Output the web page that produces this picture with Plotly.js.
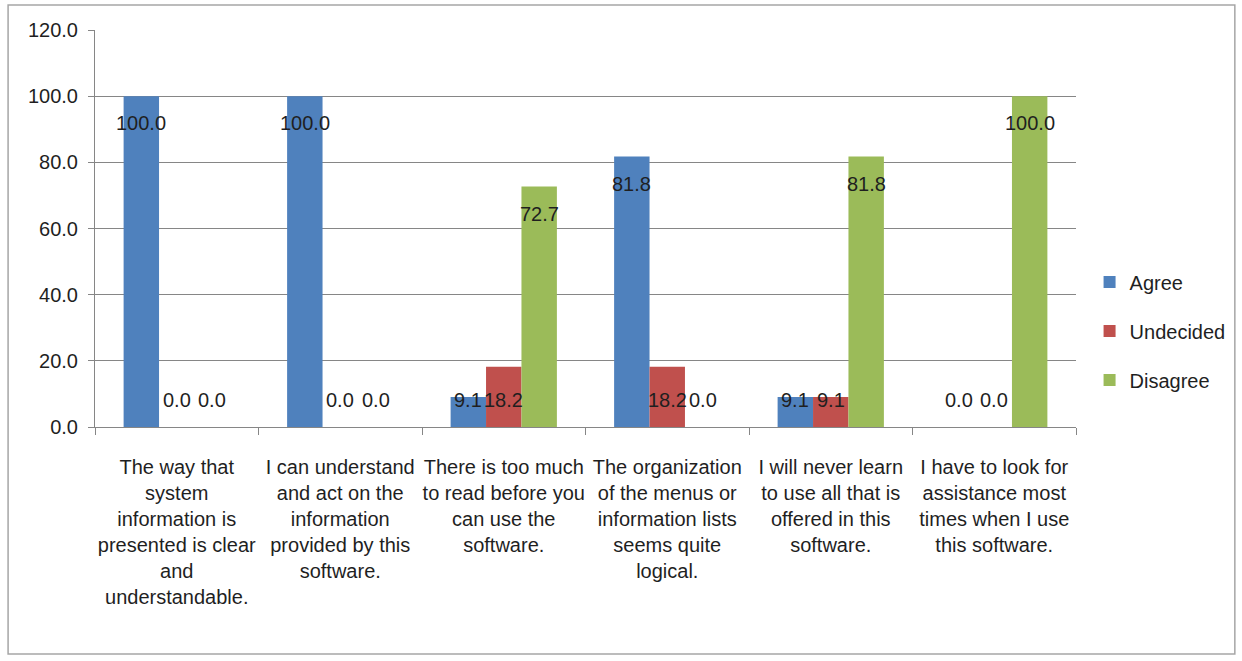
<!DOCTYPE html>
<html>
<head>
<meta charset="utf-8">
<script src="https://cdn.plot.ly/plotly-3.0.1.min.js"></script>
<style>
html,body{margin:0;padding:0;background:#fff;}
#chart{width:1242px;height:661px;}
</style>
</head>
<body>
<div id="chart"></div>
<script>
const categories = [
  "The way that<br>system<br>information is<br>presented is clear<br>and<br>understandable.",
  "I can understand<br>and act on the<br>information<br>provided by this<br>software.",
  "There is too much<br>to read before you<br>can use the<br>software.",
  "The organization<br>of the menus or<br>information lists<br>seems quite<br>logical.",
  "I will never learn<br>to use all that is<br>offered in this<br>software.",
  "I have to look for<br>assistance most<br>times when I use<br>this software."
];
const agree = [100.0, 100.0, 9.1, 81.8, 9.1, 0.0];
const undecided = [0.0, 0.0, 18.2, 18.2, 9.1, 0.0];
const disagree = [0.0, 0.0, 72.7, 0.0, 81.8, 100.0];
const yTicks = [0, 20, 40, 60, 80, 100, 120];

const seriesNames = ["Agree", "Undecided", "Disagree"];
const seriesValues = [agree, undecided, disagree];
const colors = ["#4F81BD", "#C0504D", "#9BBB59"];
const FONT = "Liberation Sans, Arial, sans-serif";
const TXT = "#1f1f1f";
const bargap = 0.35;
const barW = (1 - bargap) / 3;

const traces = seriesValues.map((vals, k) => ({
  type: "bar",
  name: seriesNames[k],
  x: categories,
  y: vals,
  marker: {color: colors[k]},
  legendgroup: seriesNames[k],
  hoverinfo: "y"
}));

const annotations = [];
seriesValues.forEach((vals, k) => {
  vals.forEach((v, i) => {
    annotations.push({
      xref: "x", yref: "y",
      x: i + (k - 1) * barW,
      y: v >= 30 ? v - 8.2 : 8.2,
      text: v.toFixed(1),
      showarrow: false,
      xanchor: "center", yanchor: "middle",
      font: {family: FONT, size: 20, color: TXT}
    });
  });
});

const layout = {
  width: 1242, height: 661,
  margin: {l: 95, r: 165, t: 30, b: 234},
  paper_bgcolor: "#fff", plot_bgcolor: "#fff",
  barmode: "group",
  bargap: bargap,
  bargroupgap: 0,
  showlegend: true,
  legend: {
    x: 1.0128, xanchor: "left", y: 0.242, yanchor: "middle",
    font: {family: FONT, size: 20, color: TXT},
    traceorder: "grouped", tracegroupgap: 20,
    itemwidth: 30
  },
  xaxis: {
    type: "category",
    tickson: "boundaries",
    ticks: "outside", ticklen: 7, tickcolor: "#868686",
    showline: true, linecolor: "#868686", linewidth: 1,
    showgrid: false,
    tickangle: 0,
    ticklabelstandoff: 22,
    tickfont: {family: FONT, size: 20, color: TXT}
  },
  yaxis: {
    range: [0, 120],
    tickvals: yTicks,
    ticktext: yTicks.map(t => t.toFixed(1)),
    ticks: "outside", ticklen: 6, tickcolor: "#868686",
    showline: true, linecolor: "#868686", linewidth: 1,
    showgrid: true, gridcolor: "#868686", gridwidth: 1,
    zeroline: false,
    ticklabelstandoff: 6,
    tickfont: {family: FONT, size: 20, color: TXT}
  },
  annotations: annotations,
  shapes: [{
    type: "rect", xref: "paper", yref: "paper",
    x0: (8 - 95) / 982, x1: (1236 - 95) / 982,
    y0: (427 - 654) / 397, y1: (427 - 5) / 397,
    line: {color: "#A6A6A6", width: 1.5}, fillcolor: "rgba(0,0,0,0)", layer: "below"
  }]
};

Plotly.newPlot("chart", traces, layout, {displayModeBar: false, staticPlot: true});
</script>
</body>
</html>
